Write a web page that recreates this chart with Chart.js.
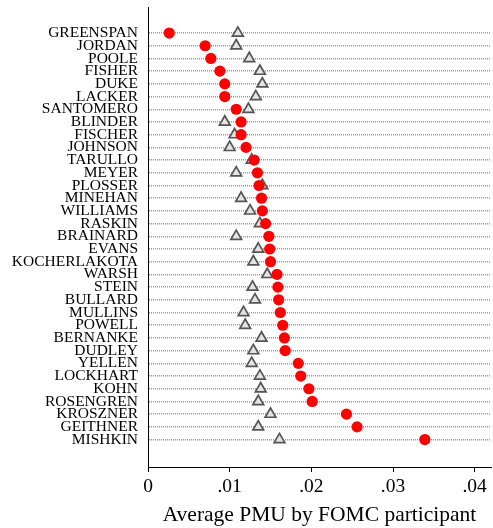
<!DOCTYPE html>
<html>
<head>
<meta charset="utf-8">
<script src="https://cdn.jsdelivr.net/npm/chart.js@4.4.0/dist/chart.umd.min.js"></script>
<style>
    html, body { margin: 0; padding: 0; background: #fff; }
</style>
</head>
<body>
<canvas id="myChart" width="493" height="528"></canvas>
<script>
// participants, top to bottom
const participants = [
    'GREENSPAN', 'JORDAN', 'POOLE', 'FISHER', 'DUKE', 'LACKER', 'SANTOMERO',
    'BLINDER', 'FISCHER', 'JOHNSON', 'TARULLO', 'MEYER', 'PLOSSER', 'MINEHAN',
    'WILLIAMS', 'RASKIN', 'BRAINARD', 'EVANS', 'KOCHERLAKOTA', 'WARSH', 'STEIN',
    'BULLARD', 'MULLINS', 'POWELL', 'BERNANKE', 'DUDLEY', 'YELLEN', 'LOCKHART',
    'KOHN', 'ROSENGREN', 'KROSZNER', 'GEITHNER', 'MISHKIN'
];

// red dots
const pmuParticipant = [
    0.0026, 0.0070, 0.0077, 0.0088, 0.0094, 0.0094, 0.0108,
    0.0114, 0.0114, 0.0120, 0.0130, 0.0134, 0.0136, 0.0139,
    0.0140, 0.0144, 0.0148, 0.0149, 0.0150, 0.0158, 0.0159,
    0.0160, 0.0162, 0.0165, 0.0167, 0.0168, 0.0184, 0.0187,
    0.0197, 0.0201, 0.0243, 0.0256, 0.0339
];

// gray triangles
const pmuOthers = [
    0.0110, 0.0108, 0.0124, 0.0137, 0.0140, 0.0132, 0.0123,
    0.0094, 0.0106, 0.0100, 0.0127, 0.0108, 0.0140, 0.0114,
    0.0125, 0.0137, 0.0108, 0.0135, 0.0129, 0.0146, 0.0128,
    0.0131, 0.0117, 0.0119, 0.0139, 0.0129, 0.0127, 0.0137,
    0.0138, 0.0135, 0.0150, 0.0135, 0.0161
];

const xTicks = [0, 0.01, 0.02, 0.03, 0.04];
const xTickLabels = ['0', '.01', '.02', '.03', '.04'];
const xTitle = 'Average PMU by FOMC participant';

const serif = '"Liberation Serif", "Times New Roman", serif';

const ctx = document.getElementById('myChart').getContext('2d');

new Chart(ctx, {
    type: 'scatter',
    data: {
        datasets: [
            {
                label: 'participant',
                data: pmuParticipant.map((v, i) => ({ x: v, y: i })),
                pointStyle: 'circle',
                pointRadius: 5.6,
                backgroundColor: '#ff0000',
                borderWidth: 0,
                order: 0
            },
            {
                label: 'others',
                data: pmuOthers.map((v, i) => ({ x: v, y: i })),
                pointStyle: 'triangle',
                pointRadius: 6.2,
                backgroundColor: '#e4e4e4',
                borderColor: '#555555',
                borderWidth: 1.7,
                order: 1
            }
        ]
    },
    options: {
        responsive: false,
        animation: false,
        devicePixelRatio: 1,
        // autoPadding off, or the point overflow pushes the plot edge inward
        layout: { autoPadding: false, padding: { left: 0, right: 2, top: 7, bottom: 0 } },
        plugins: {
            legend: { display: false },
            tooltip: { enabled: false }
        },
        scales: {
            x: {
                type: 'linear',
                min: 0,
                max: 0.042,
                afterBuildTicks: (scale) => {
                    scale.ticks = xTicks.map(v => ({ value: v }));
                },
                afterFit: (scale) => {
                    scale.height = 61;
                    scale.paddingLeft = 0;
                    scale.paddingRight = 0;
                },
                ticks: {
                    autoSkip: false,
                    maxRotation: 0,
                    padding: 3,
                    color: '#000',
                    font: { family: serif, size: 19.5 },
                    callback: (value, index) => xTickLabels[index]
                },
                grid: {
                    display: true,
                    drawOnChartArea: false,
                    drawTicks: true,
                    tickLength: 5,
                    color: '#000',
                    lineWidth: 1
                },
                border: { display: true, color: '#000', width: 1 },
                title: {
                    display: true,
                    text: xTitle,
                    color: '#000',
                    font: { family: serif, size: 21.5 },
                    padding: { top: 0, bottom: 0 }
                }
            },
            y: {
                type: 'linear',
                reverse: true,
                min: -2.05,
                max: 34.16,
                afterBuildTicks: (scale) => {
                    scale.ticks = participants.map((n, i) => ({ value: i }));
                },
                afterFit: (scale) => {
                    scale.width = 148;
                    scale.paddingTop = 0;
                    scale.paddingBottom = 0;
                },
                ticks: {
                    autoSkip: false,
                    padding: 10,
                    color: '#000',
                    font: { family: serif, size: 15.5 },
                    callback: (value) => participants[value]
                },
                grid: {
                    display: true,
                    drawTicks: false,
                    color: '#9a9a9a',
                    lineWidth: 1.5
                },
                border: { display: true, color: '#000', width: 1, dash: [1, 1] }
            }
        }
    }
});
</script>
</body>
</html>
